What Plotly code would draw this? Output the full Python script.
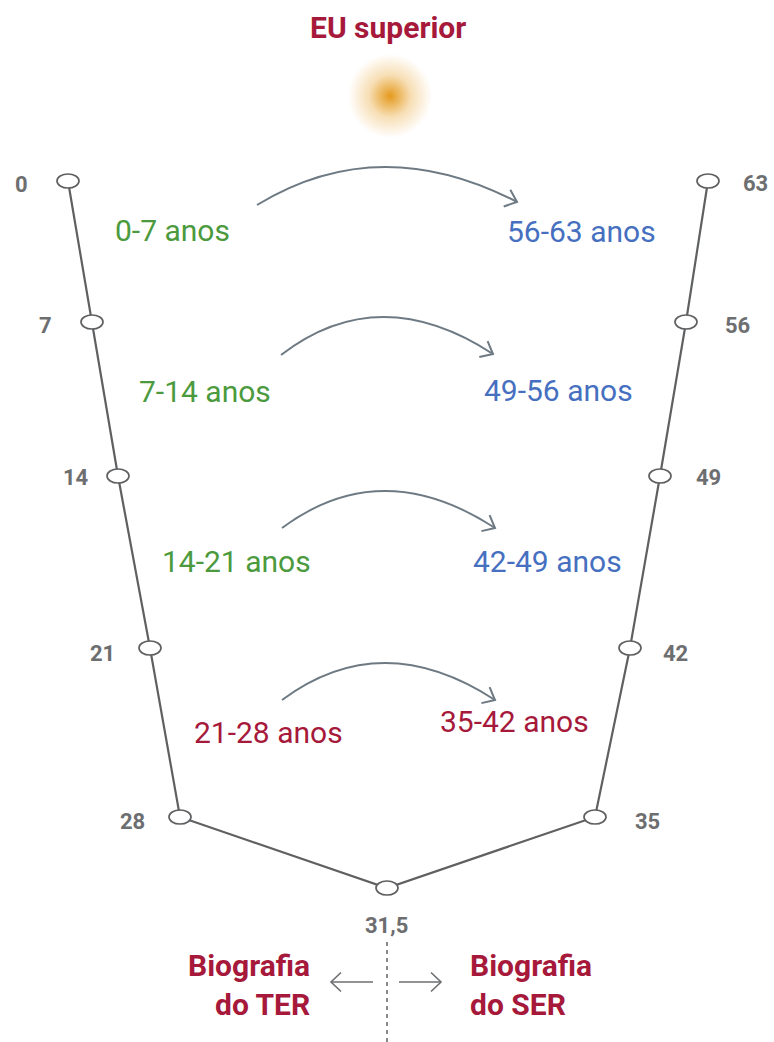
import plotly.graph_objects as go
import numpy as np

# ---------------- data ----------------
left_ages = ["0", "7", "14", "21", "28"]
bottom_age = "31,5"
right_ages = ["35", "42", "49", "56", "63"]
left_phases = ["0-7 anos", "7-14 anos", "14-21 anos", "21-28 anos"]
right_phases = ["56-63 anos", "49-56 anos", "42-49 anos", "35-42 anos"]
title_text = "EU superior"
left_bottom_text = ["Biografia", "do TER"]
right_bottom_text = ["Biografia", "do SER"]

# ---------------- layout (pixel space) ----------------
W, H = 774, 1042
left_nx = [68, 92, 118, 150, 180]
node_y = [181, 322, 476, 648, 817]
right_nx = [595, 630, 660, 686, 708]
right_ny = [817, 648, 476, 322, 181]
bottom_xy = (387, 888)
left_num_pos = [(21, 184), (45, 325), (76, 477), (102, 653), (132, 821)]
right_num_pos = [(647, 821), (675, 653), (708, 477), (737, 325), (755, 183)]
bottom_num_pos = (386, 925)
left_phase_pos = [(172, 230), (205, 391), (236, 561), (268, 732)]
right_phase_pos = [(581, 231), (558, 390), (547, 561), (514, 721)]
phase_colors_left = ["#4b9a3d", "#4b9a3d", "#4b9a3d", "#a6193a"]
phase_colors_right = ["#4670bf", "#4670bf", "#4670bf", "#a6193a"]
arcs = [((257, 205), (383, 167), (517, 202)),
        ((281, 355), (383, 317), (493, 354)),
        ((282, 528), (385, 491), (495, 528)),
        ((282, 700), (385, 663), (495, 700))]

RED = "#a6193a"
GRAY = "#6d6e70"
LINE = "#5f6062"
ARC = "#6e7a83"

fig = go.Figure()

# sun glow (radial gradients: centre = gradient colour, edge = marker colour)
for size, edge, centre in [(84, "#ffffff", "#efbd6a"), (42, "rgb(247,222,180)", "#e49a1e")]:
    fig.add_trace(go.Scatter(x=[390], y=[96], mode="markers",
                             marker=dict(size=size, color=edge, line=dict(width=0),
                                         gradient=dict(type="radial", color=centre)),
                             hoverinfo="skip", showlegend=False))

# V path
px = left_nx + [bottom_xy[0]] + right_nx
py = node_y + [bottom_xy[1]] + right_ny
fig.add_trace(go.Scatter(x=px, y=py, mode="lines", line=dict(color=LINE, width=2.2),
                         hoverinfo="skip", showlegend=False))

shapes = []
# node ellipses
for cx, cy in zip(px, py):
    shapes.append(dict(type="circle", xref="x", yref="y", x0=cx - 11, x1=cx + 11, y0=cy - 7, y1=cy + 7,
                       fillcolor="white", line=dict(color=LINE, width=1.7), layer="above"))

# arcs with arrowheads
for (s, pk, e) in arcs:
    xc = 2 * pk[0] - (s[0] + e[0]) / 2
    yc = (4 * pk[1] - s[1] - e[1]) / 2
    shapes.append(dict(type="path", xref="x", yref="y",
                       path=f"M {s[0]},{s[1]} Q {xc},{yc} {e[0]},{e[1]}",
                       line=dict(color=ARC, width=2)))
    ang = np.arctan2(yc - e[1], xc - e[0]) + np.deg2rad(-6)
    L = 14
    a1 = (e[0] + L * np.cos(ang + np.deg2rad(40)), e[1] + L * np.sin(ang + np.deg2rad(40)))
    a2 = (e[0] + L * np.cos(ang - np.deg2rad(40)), e[1] + L * np.sin(ang - np.deg2rad(40)))
    shapes.append(dict(type="path", xref="x", yref="y",
                       path=f"M {a1[0]:.1f},{a1[1]:.1f} L {e[0]},{e[1]} L {a2[0]:.1f},{a2[1]:.1f}",
                       line=dict(color=ARC, width=2)))

# dashed vertical line
shapes.append(dict(type="line", xref="x", yref="y", x0=387, x1=387, y0=942, y1=1042,
                   line=dict(color=GRAY, width=1.6, dash="4px,4px")))
# horizontal arrows
for x0, x1 in [(373, 331), (399, 441)]:
    shapes.append(dict(type="line", xref="x", yref="y", x0=x0, x1=x1, y0=982, y1=982,
                       line=dict(color=GRAY, width=1.6)))
    d = 10 if x1 < x0 else -10
    shapes.append(dict(type="path", xref="x", yref="y",
                       path=f"M {x1 + d},{972.5} L {x1},{982} L {x1 + d},{991.5}",
                       line=dict(color=GRAY, width=1.6)))

ann = []
def text(x, y, t, size, color, bold=False, xanchor="center"):
    ann.append(dict(x=x, y=y, xref="x", yref="y", text=f"<b>{t}</b>" if bold else t, showarrow=False,
                    xanchor=xanchor, yanchor="middle",
                    font=dict(family="Roboto", size=size, color=color)))

text(388, 27, title_text, 30, RED, bold=True)
for t, (x, y) in zip(left_ages, left_num_pos):
    text(x, y, t, 22, GRAY, bold=True)
for t, (x, y) in zip(right_ages, right_num_pos):
    text(x, y, t, 22, GRAY, bold=True)
text(bottom_num_pos[0], bottom_num_pos[1], bottom_age, 22, GRAY, bold=True)
for t, (x, y), c in zip(left_phases, left_phase_pos, phase_colors_left):
    text(x, y, t, 30, c)
for t, (x, y), c in zip(right_phases, right_phase_pos, phase_colors_right):
    text(x, y, t, 30, c)
text(312, 965, left_bottom_text[0], 30, RED, bold=True, xanchor="right")
text(312, 1004, left_bottom_text[1], 30, RED, bold=True, xanchor="right")
text(468, 965, right_bottom_text[0], 30, RED, bold=True, xanchor="left")
text(468, 1004, right_bottom_text[1], 30, RED, bold=True, xanchor="left")

fig.update_layout(
    width=W, height=H, margin=dict(l=0, r=0, t=0, b=0),
    paper_bgcolor="white", plot_bgcolor="white",
    xaxis=dict(range=[0, W], visible=False, fixedrange=True),
    yaxis=dict(range=[H, 0], visible=False, fixedrange=True),
    shapes=shapes, annotations=ann, showlegend=False,
)
fig.write_html("out.html", config={"displayModeBar": False},
               post_script="document.body.style.margin='0';document.body.style.overflow='hidden';")
